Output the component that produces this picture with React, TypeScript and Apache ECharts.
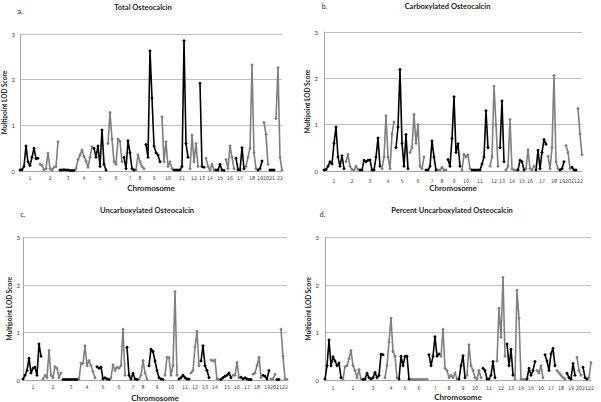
import React, { useEffect, useRef } from "react";
import * as echarts from "echarts";

// ---------- data ----------
const chromosomes = ["1","2","3","4","5","6","7","8","9","10","11","12","13","14","15","16","17","18","19","20","21","22"];

// Multipoint LOD score along each chromosome (one inner list per chromosome)
const totalOC: number[][] = [
  [0.02,0.03,0.1,0.55,0.2,0.12,0.3,0.5,0.27,0.28],
  [0.15,0.12,0.03,0.05,0.39,0.05,0.02,0.08,0.1,0.64],
  [0.02,0.02,0.03,0.02,0.02,0.01,0.01,0.01],
  [0.05,0.25,0.35,0.46,0.32,0.22,0.08,0.3,0.53],
  [0.5,0.3,0.55,0.1,0.9,0.15,0.02],
  [0.6,1.28,0.7,0.2,0.15,0.7,0.65,0.2],
  [0.3,0.05,0.66,0.4,0.05,0.02],
  [0.02,0.35,0.2,0.1,0.05],
  [0.58,0.3,2.63,1.6,0.55,0.4,0.35,0.2],
  [1.19,0.2,0.64,0.1,0.2,0.05],
  [0.02,0.02,0.02,0.02,0.1,2.85,0.6,0.3],
  [0.05,0.79,0.2,0.6,0.1],
  [1.92,0.1,0.08],
  [0.28,0.1,0.02,0.15,0.02],
  [0.02,0.02,0.15,0.02,0.01],
  [0.25,0.05,0.55,0.3,0.05],
  [0.28,0.03,0.02,0.51,0.05],
  [0.1,0.3,0.5,2.32,0.4,0.05],
  [0.02,0.05,0.22],
  [1.06,0.8,0.15],
  [0.02,0.02,0.02],
  [1.15,2.26,0.3,0.02],
];

const carbOC: number[][] = [
  [0.02,0.03,0.1,0.2,0.15,0.6,0.95,0.3,0.1,0.33,0.05],
  [0.2,0.36,0.1,0.03,0.02,0.1,0.03],
  [0.02,0.02,0.23,0.2,0.23,0.24,0.02,0.02,0.3,0.71,0.1],
  [0.05,0.3,1.19,0.3,0.05,0.8,1.06],
  [0.5,0.95,2.19,0.6,0.1,0.79,0.05],
  [0.4,0.5,1.22,0.6,1.0,0.1,0.05,0.3],
  [0.02,0.02,0.1,0.65,0.3,0.02],
  [0.02,0.02,0.08,0.02,0.02],
  [0.25,0.1,0.7,1.6,0.4,0.59,0.1],
  [0.02,0.36,0.3,0.35,0.05],
  [0.02,0.02,0.02,0.02,0.02,0.15,0.3,1.3,0.5],
  [0.1,0.3,1.83,1.0,0.1],
  [0.5,1.51,0.2],
  [0.02,0.1,1.11,0.05,0.02,0.02],
  [0.02,0.23,0.2,0.02],
  [0.05,0.46,0.05,0.02,0.1],
  [0.02,0.45,0.05,0.4,0.68,0.58],
  [0.32,0.05,0.5,2.06,0.2,0.05],
  [0.02,0.05,0.2],
  [0.55,0.4,0.05],
  [0.08,0.02,0.02],
  [1.35,0.8,0.35],
];

const uncarbOC: number[][] = [
  [0.02,0.1,0.2,0.46,0.15,0.25,0.27,0.1,0.76,0.5],
  [0.02,0.1,0.05,0.62,0.1,0.05,0.28,0.25,0.05,0.15],
  [0.01,0.01,0.01,0.01,0.01,0.01,0.01,0.01],
  [0.02,0.35,0.35,0.72,0.3,0.41,0.3,0.18,0.05],
  [0.28,0.25,0.27,0.02,0.05,0.02,0.01],
  [0.05,0.32,0.2,0.27,0.25,0.3,1.07,0.1],
  [0.69,0.1,0.02,0.14,0.02,0.01],
  [0.02,0.1,0.41,0.15,0.02],
  [0.3,0.65,0.6,0.4,0.2,0.05,0.02,0.01],
  [0.1,0.48,0.47,0.1,0.3,1.86,0.1],
  [0.02,0.05,0.1,0.05,0.02,0.02],
  [0.15,0.2,0.7,1.02,0.3],
  [0.4,0.72,0.3,0.2,0.05],
  [0.42,0.4,0.42,0.02,0.01],
  [0.01,0.05,0.08,0.1,0.15,0.05],
  [0.1,0.1,0.37,0.05],
  [0.06,0.02,0.05,0.02,0.01,0.01],
  [0.12,0.15,0.3,0.48,0.05],
  [0.1,0.08,0.02,0.2],
  [0.02,0.02,0.12],
  [0.01,0.01],
  [1.07,0.5,0.02,0.01],
];

const pctUncarbOC: number[][] = [
  [0.02,0.3,0.84,0.3,0.49,0.4,0.3,0.36,0.05],
  [0.02,0.28,0.3,0.45,0.62,0.3,0.2,0.05,0.22,0.02],
  [0.01,0.02,0.14,0.05,0.02,0.05,0.16,0.05,0.1,0.54,0.53],
  [0.05,0.3,0.8,1.3,0.6,0.5,0.05],
  [0.02,0.5,0.3,0.5,0.5,0.02],
  [0.01,0.01,0.01,0.01,0.01,0.01,0.01,0.01,0.01],
  [0.53,0.3,0.5,0.91,0.5,0.55],
  [0.5,1.07,0.25,0.2,0.05,0.1,0.05,0.15,0.02],
  [0.02,0.3,0.51,0.05],
  [0.1,0.74,0.3,0.2,0.05,0.02,0.2,0.05],
  [0.25,0.2,0.02,0.02,0.1,0.39,0.05],
  [0.4,1.51,0.9,2.16,0.5],
  [0.76,0.3,0.65,0.1],
  [0.02,1.89,1.3,0.02,0.01,0.01],
  [0.02,0.25,0.1,0.2,0.39],
  [0.2,0.15,0.3,0.05],
  [0.53,0.4,0.2,0.55,0.67,0.3],
  [0.2,0.15,0.1,0.05,0.02],
  [0.14,0.05,0.02,0.35,0.1],
  [0.48,0.2,0.1],
  [0.27,0.05,0.02],
  [0.05,0.37],
];

const panelData = [totalOC, carbOC, uncarbOC, pctUncarbOC];
const panelTitles = ["Total Osteocalcin", "Carboxylated Osteocalcin", "Uncarboxylated Osteocalcin", "Percent Uncarboxylated Osteocalcin"];
const panelLetters = ["a.", "b.", "c.", "d."];
const yMin = 0;
const yMax = 3;
const yStep = 1;

// ---------- layout / style ----------
const FONT = "Lato, 'Open Sans', sans-serif";
const TICK_FONT = "'Liberation Sans Narrow', 'DejaVu Sans Condensed', Lato, sans-serif";
const BLACK = "#000000";
const GRAY = "#7f7f7f";
const grids = [
  { left: 20, top: 34, width: 262, height: 137 },
  { left: 324, top: 32, width: 258, height: 139 },
  { left: 23, top: 237.5, width: 264, height: 142.5 },
  { left: 325, top: 237.5, width: 266, height: 142.5 },
];
const titlePos = [[143, 7], [447.5, 6], [147, 210.5], [452, 210.5]];
const letterPos = [[20, 11], [324.5, 6], [23, 214], [322.5, 214]];
const xLabelMargin = [4, 7, 4, 5];
const xNameGap = [13, 12, 14, 13];
const yNameGap = [11, 10.5, 9.5, 11];
const yLabelMargin = [5, 6, 3, 6];

function buildPanel(chrData: number[][]) {
  const cats: string[] = [];
  const black: (number | null)[] = [];
  const gray: (number | null)[] = [];
  const centers = new Set<number>();
  chrData.forEach((vals, ci) => {
    const start = cats.length;
    centers.add(start + Math.ceil((vals.length - 1) / 2));
    const isBlack = ci % 2 === 0;
    vals.forEach((v, j) => {
      cats.push(chromosomes[ci] + "#" + j);
      black.push(isBlack ? v : null);
      gray.push(isBlack ? null : v);
    });
  });
  return { cats, black, gray, centers, last: cats.length - 1 };
}

export default function App() {
  const ref = useRef<HTMLDivElement>(null);
  useEffect(() => {
    if (!ref.current) return;
    const chart = echarts.init(ref.current, undefined, { renderer: "svg" });
    const panels = panelData.map(buildPanel);

    const lineSeries = (data: (number | null)[], i: number, color: string, z: number) => ({
      type: "line",
      xAxisIndex: i,
      yAxisIndex: i,
      data,
      symbol: "diamond",
      symbolSize: 3.5,
      showSymbol: true,
      showAllSymbol: true,
      connectNulls: false,
      lineStyle: { color, width: 1.6 },
      itemStyle: { color },
      silent: true,
      z,
    });

    const option: any = {
      animation: false,
      grid: grids.map((g) => ({ ...g, containLabel: false, outerBoundsMode: "none" })),
      xAxis: panels.map((p, i) => ({
        type: "category",
        gridIndex: i,
        data: p.cats,
        boundaryGap: false,
        axisLine: { show: true, lineStyle: { color: "#a6a6a6", width: 1 } },
        axisTick: { show: false },
        splitLine: { show: false },
        axisLabel: {
          // chromosome number at each chromosome's middle point; empty labels at the
          // axis ends keep the auto min/max-label overlap rule away from 1 and 22
          interval: (index: number) => p.centers.has(index) || index === 0 || index === p.last,
          formatter: (v: string) =>
            (v === p.cats[p.last] && !p.centers.has(p.last)) || (v === p.cats[0] && !p.centers.has(0))
              ? ""
              : v.split("#")[0],
          fontSize: 5.3,
          color: "#404040",
          fontFamily: TICK_FONT,
          margin: xLabelMargin[i],
        },
        name: "Chromosome",
        nameLocation: "middle",
        nameGap: xNameGap[i],
        nameTextStyle: { fontSize: 8, fontWeight: "bold", color: "#262626", fontFamily: FONT },
      })),
      yAxis: panels.map((_, i) => ({
        type: "value",
        gridIndex: i,
        min: yMin,
        max: yMax,
        interval: yStep,
        axisLine: { show: true, lineStyle: { color: "#a6a6a6", width: 1 } },
        axisTick: { show: false },
        splitLine: { show: true, lineStyle: { color: "#bfbfbf", width: 1 } },
        axisLabel: { fontSize: 6, color: "#404040", fontFamily: FONT, margin: yLabelMargin[i] },
        name: "Multipoint LOD Score",
        nameLocation: "middle",
        nameGap: yNameGap[i],
        nameTextStyle: { fontSize: 6.5, fontWeight: "bold", color: "#262626", fontFamily: FONT },
      })),
      series: panels.flatMap((p, i) => [
        lineSeries(p.gray, i, GRAY, 2),
        lineSeries(p.black, i, BLACK, 3),
      ]),
      graphic: [
        ...panelTitles.map((t, i) => ({
          type: "text",
          x: titlePos[i][0],
          y: titlePos[i][1],
          style: {
            text: t,
            fontSize: 7.5,
            fontWeight: "bold",
            fontFamily: FONT,
            fill: "#262626",
            textAlign: "center",
            textVerticalAlign: "middle",
          },
        })),
        ...panelLetters.map((t, i) => ({
          type: "text",
          x: letterPos[i][0],
          y: letterPos[i][1],
          style: {
            text: t,
            fontSize: 7,
            fontFamily: FONT,
            fill: "#262626",
            textAlign: "center",
            textVerticalAlign: "middle",
          },
        })),
      ],
    };
    chart.setOption(option);
    return () => chart.dispose();
  }, []);
  return (
    <div
      ref={ref}
      style={{ position: "absolute", left: 0, top: 0, width: 601, height: 402, background: "#ffffff" }}
    />
  );
}
